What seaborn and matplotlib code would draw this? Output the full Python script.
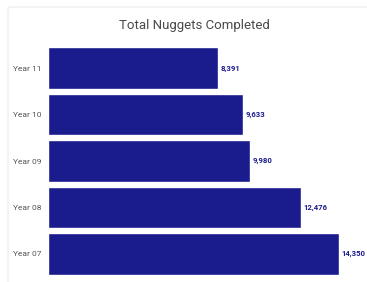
import matplotlib
matplotlib.use("Agg")
import matplotlib.pyplot as plt
import seaborn as sns
import pandas as pd
from matplotlib.patches import FancyBboxPatch

categories = ["Year 11", "Year 10", "Year 09", "Year 08", "Year 07"]
values = [8391, 9633, 9980, 12476, 14350]
labels = ["8,391", "9,633", "9,980", "12,476", "14,350"]
title = "Total Nuggets Completed"

sns.set_theme(style="white")
plt.rcParams['font.family'] = ['Roboto', 'DejaVu Sans']

W, H = 367, 282
dpi = 100
fig = plt.figure(figsize=(W / dpi, H / dpi), dpi=dpi)
fig.patch.set_facecolor("white")

# card border
card = FancyBboxPatch((8 / W, -0.05), 1.1, (H - 7) / H + 0.05,
                      boxstyle="round,pad=0,rounding_size=0.01",
                      transform=fig.transFigure, facecolor="none",
                      edgecolor="#ebebeb", linewidth=0.8, zorder=-1)
fig.patches.append(card)

left, right = 48, 367
top, bottom = 45, 277
ax = fig.add_axes([left / W, 1 - bottom / H, (right - left) / W, (bottom - top) / H])
ax.set_facecolor("none")

df = pd.DataFrame({"cat": categories, "val": values})
sns.barplot(data=df, y="cat", x="val", orient="h", color="#1a1b8c",
            width=0.9, saturation=1, ax=ax)
ax.set_xlim(0, (right - left) / 0.02027)
ax.set_ylim(4.5, -0.5)

for i, (v, lab) in enumerate(zip(values, labels)):
    ax.text(v + 130, i, lab, va="center", ha="left", fontsize=5.6,
            color="#1a1b8c", fontweight="bold", clip_on=False)

ax.set_xlabel("")
ax.set_ylabel("")
ax.set_xticks([])
ax.tick_params(axis="y", length=0, pad=5, labelsize=6.0, labelcolor="#555555")
for s in ax.spines.values():
    s.set_visible(False)

fig.text(194 / W, 1 - 25 / H, title, ha="center", va="center",
         fontsize=9.5, color="#4a4a4a")

fig.savefig("out.png", dpi=dpi, facecolor="white")
